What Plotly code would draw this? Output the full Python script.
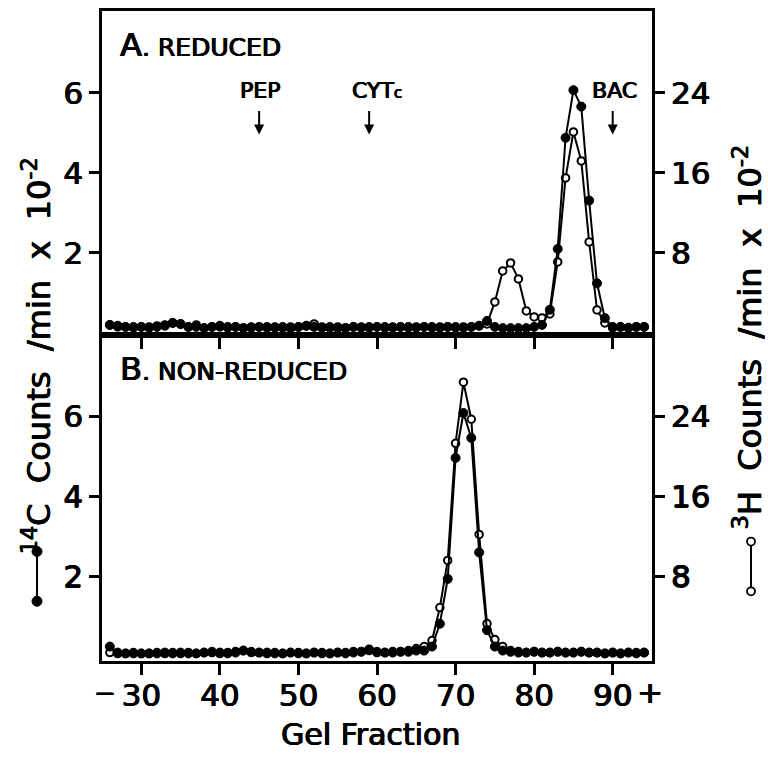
import plotly.graph_objects as go

# ---------------- data ----------------
fractions = list(range(26, 95))

# Panel A (reduced): 14C counts/min x 10^-2 (left axis)
c14_reduced = [
    0.20, 0.18, 0.15, 0.15, 0.15, 0.13, 0.15, 0.18, 0.25, 0.22,   # 26-35
    0.15, 0.15, 0.12, 0.15, 0.18, 0.15, 0.15, 0.12, 0.13, 0.15,   # 36-45
    0.15, 0.13, 0.15, 0.12, 0.15, 0.18, 0.15, 0.13, 0.15, 0.12,   # 46-55
    0.12, 0.15, 0.13, 0.15, 0.15, 0.15, 0.13, 0.15, 0.15, 0.13,   # 56-65
    0.15, 0.15, 0.13, 0.15, 0.15, 0.13, 0.15, 0.18, 0.30, 0.15,   # 66-75
    0.12, 0.12, 0.12, 0.12, 0.15, 0.20, 0.58, 2.10, 4.88, 6.07,   # 76-85
    5.66, 3.31, 1.24, 0.37, 0.15, 0.15, 0.13, 0.15, 0.15,         # 86-94
]
# Panel A (reduced): 3H counts/min x 10^-2 (right axis)
h3_reduced = [
    0.8, 0.6, 0.6, 0.5, 0.6, 0.6, 0.7, 0.8, 1.0, 0.9,   # 26-35
    0.6, 0.8, 0.5, 0.6, 0.6, 0.5, 0.6, 0.5, 0.6, 0.6,   # 36-45
    0.5, 0.6, 0.5, 0.6, 0.6, 0.7, 0.9, 0.6, 0.5, 0.6,   # 46-55
    0.5, 0.6, 0.6, 0.5, 0.6, 0.5, 0.6, 0.6, 0.5, 0.6,   # 56-65
    0.6, 0.5, 0.6, 0.6, 0.5, 0.6, 0.6, 0.7, 0.9, 3.1,   # 66-75
    6.2, 7.0, 5.4, 2.2, 1.6, 1.5, 1.9, 7.1, 15.5, 20.1, # 76-85
    17.2, 9.1, 2.3, 1.0, 0.5, 0.6, 0.5, 0.6, 0.6,       # 86-94
]
# Panel B (non-reduced): 14C (left axis)
c14_nonreduced = [
    0.25, 0.10, 0.08, 0.08, 0.08, 0.08, 0.08, 0.10, 0.08, 0.10,   # 26-35
    0.08, 0.08, 0.10, 0.12, 0.10, 0.08, 0.10, 0.15, 0.12, 0.10,   # 36-45
    0.10, 0.08, 0.08, 0.10, 0.08, 0.08, 0.10, 0.08, 0.08, 0.10,   # 46-55
    0.08, 0.10, 0.12, 0.18, 0.12, 0.10, 0.10, 0.12, 0.12, 0.15,   # 56-65
    0.15, 0.25, 0.82, 1.94, 4.96, 6.08, 5.46, 2.60, 0.66, 0.25,   # 66-75
    0.15, 0.12, 0.10, 0.10, 0.12, 0.10, 0.10, 0.12, 0.10, 0.10,   # 76-85
    0.12, 0.10, 0.10, 0.08, 0.10, 0.08, 0.10, 0.08, 0.10,         # 86-94
]
# Panel B (non-reduced): 3H (right axis)
h3_nonreduced = [
    0.4, 0.3, 0.3, 0.4, 0.3, 0.3, 0.4, 0.3, 0.4, 0.3,   # 26-35
    0.4, 0.3, 0.4, 0.4, 0.3, 0.4, 0.5, 0.6, 0.4, 0.4,   # 36-45
    0.3, 0.4, 0.3, 0.4, 0.4, 0.3, 0.4, 0.4, 0.3, 0.4,   # 46-55
    0.4, 0.5, 0.5, 0.6, 0.4, 0.4, 0.5, 0.5, 0.6, 0.8,   # 56-65
    1.0, 1.6, 4.9, 9.6, 21.3, 27.4, 23.7, 12.2, 3.3, 1.7, # 66-75
    1.0, 0.6, 0.5, 0.4, 0.5, 0.4, 0.4, 0.5, 0.4, 0.4,   # 76-85
    0.5, 0.4, 0.4, 0.3, 0.4, 0.3, 0.4, 0.4, 0.4,        # 86-94
]

x_ticks = [30, 40, 50, 60, 70, 80, 90]
x_ticktext = ["30", "40", "50", "60", "70", "80", "90"]
left_ticks = [2, 4, 6]
right_ticks = [8, 16, 24]

marker_names = ["PEP", "CYT<span style='font-size:15px'>c</span>", "BAC"]
marker_fractions = [45, 59, 90]

# ---------------- figure ----------------
FONT = "DejaVu Sans"
SHADOW = "0.7px 0px 0px black, -0.4px 0px 0px black, 0px 0.3px 0px black"
W, H = 768, 759
ML, MR, MT, MB = 102, 116, 8, 98
PW, PH = W - ML - MR, H - MT - MB
SPLIT = (661 - 333) / PH

TOP_L = [-0.04, 8.05]
TOP_R = [-0.16, 32.2]
BOT_L = [-0.11, 8.04]
BOT_R = [-0.44, 32.16]


def px_x(p):
    return (p - ML) / PW


def px_y(p):
    return (H - MB - p) / PH


fig = go.Figure()

LW = 2
filled = dict(color="black", size=9, line=dict(color="black", width=1))
opened = dict(color="white", size=7.5, line=dict(color="black", width=2))

# 3H on the base (right-side) axes, 14C on the overlaying (left-side) axes -> drawn on top
fig.add_trace(go.Scatter(x=fractions, y=h3_reduced, xaxis="x2", yaxis="y3",
                         mode="lines+markers", line=dict(color="black", width=LW),
                         marker=opened, showlegend=False, cliponaxis=False))
fig.add_trace(go.Scatter(x=fractions, y=c14_reduced, xaxis="x2", yaxis="y4",
                         mode="lines+markers", line=dict(color="black", width=LW),
                         marker=filled, showlegend=False, cliponaxis=False))
fig.add_trace(go.Scatter(x=fractions, y=h3_nonreduced, xaxis="x", yaxis="y",
                         mode="lines+markers", line=dict(color="black", width=LW),
                         marker=opened, showlegend=False, cliponaxis=False))
fig.add_trace(go.Scatter(x=fractions, y=c14_nonreduced, xaxis="x", yaxis="y2",
                         mode="lines+markers", line=dict(color="black", width=LW),
                         marker=filled, showlegend=False, cliponaxis=False))

tickfont = dict(family=FONT, size=31, color="black", shadow=SHADOW)
axis_common = dict(showline=True, linecolor="black", linewidth=2.5, ticks="outside",
                   tickcolor="black", tickwidth=2.5, showgrid=False, zeroline=False,
                   tickfont=tickfont)

fig.update_layout(
    width=W, height=H,
    margin=dict(l=ML, r=MR, t=MT, b=MB, pad=0),
    paper_bgcolor="white", plot_bgcolor="white",
    font=dict(family=FONT, color="black"),
    xaxis=dict(domain=[0, 1], anchor="y", range=[25, 95], tickvals=x_ticks,
               ticktext=x_ticktext, ticklen=11, mirror=True, ticklabelstandoff=-6,
               **axis_common),
    xaxis2=dict(domain=[0, 1], anchor="y3", range=[25, 95], tickvals=x_ticks,
                showticklabels=False, ticklen=12, mirror=True, **axis_common),
    # bottom panel: right axis (3H) is the base, left axis (14C) overlays it
    yaxis=dict(domain=[0, SPLIT], anchor="x", side="right", range=BOT_R,
               tickvals=right_ticks, ticklen=10, mirror=True, **axis_common),
    yaxis2=dict(overlaying="y", side="left", anchor="x", range=BOT_L,
                tickvals=left_ticks, ticklen=10, **axis_common),
    # top panel
    yaxis3=dict(domain=[SPLIT, 1], anchor="x2", side="right", range=TOP_R,
                tickvals=right_ticks, ticklen=10, mirror=True, **axis_common),
    yaxis4=dict(overlaying="y3", side="left", anchor="x2", range=TOP_L,
                tickvals=left_ticks, ticklen=10, **axis_common),
)

TXT = dict(family=FONT, color="black", shadow=SHADOW)
ann = []
# panel labels
ann.append(dict(xref="paper", yref="paper", x=px_x(118), y=px_y(42), xanchor="left",
                yanchor="middle", showarrow=False,
                text="A<span style='font-size:25px'>. REDUCED</span>",
                font=dict(size=32, **TXT)))
ann.append(dict(xref="paper", yref="paper", x=px_x(118), y=px_y(368), xanchor="left",
                yanchor="middle", showarrow=False,
                text="B<span style='font-size:25px'>. NON-REDUCED</span>",
                font=dict(size=32, **TXT)))

# molecular-weight markers with arrows
text_shift = [1, 8, 2]
for name, fr, sh in zip(marker_names, marker_fractions, text_shift):
    ann.append(dict(xref="x2", yref="y4", x=fr, y=6.05, xshift=sh, showarrow=False,
                    text=name, xanchor="center", yanchor="middle",
                    font=dict(size=22, **TXT)))
    ann.append(dict(xref="x2", yref="y4", x=fr, y=4.96, ax=0, ay=-25, text="",
                    showarrow=True, arrowhead=2, arrowsize=1, arrowwidth=2,
                    arrowcolor="black"))

# "-" before 30 and "+" after 90
ann.append(dict(xref="x", yref="paper", x=25.4, y=px_y(693), text="−", showarrow=False,
                xanchor="center", yanchor="middle", font=dict(size=26, **TXT)))
ann.append(dict(xref="x", yref="paper", x=94.7, y=px_y(692), text="+", showarrow=False,
                xanchor="center", yanchor="middle", font=dict(size=31, **TXT)))

# axis titles
ann.append(dict(xref="paper", yref="paper", x=px_x(370), y=px_y(735), text="Gel Fraction",
                showarrow=False, xanchor="center", yanchor="middle",
                font=dict(size=30, **TXT)))
ann.append(dict(xref="paper", yref="paper", x=px_x(37), y=px_y(355), textangle=-90,
                text="<sup>14</sup>C  Counts  /min  x  10<sup>-2</sup>", showarrow=False,
                xanchor="center", yanchor="middle",
                font=dict(size=32, **TXT)))
ann.append(dict(xref="paper", yref="paper", x=px_x(748), y=px_y(336), textangle=-90,
                text="<sup>3</sup>H  Counts  /min  x  10<sup>-2</sup>", showarrow=False,
                xanchor="center", yanchor="middle",
                font=dict(size=32, **TXT)))
fig.update_layout(annotations=ann)

# legend glyphs next to axis titles
shapes = []
rx, ry = 5 / PW, 5 / PH
lx = px_x(37)
shapes.append(dict(type="line", xref="paper", yref="paper", x0=lx, x1=lx,
                   y0=px_y(551), y1=px_y(601), line=dict(color="black", width=2)))
for py in (551, 601):
    shapes.append(dict(type="circle", xref="paper", yref="paper",
                       x0=lx - rx, x1=lx + rx, y0=px_y(py) - ry, y1=px_y(py) + ry,
                       fillcolor="black", line=dict(color="black", width=1)))
rxo, ryo = 4 / PW, 4 / PH
gx = px_x(751)
shapes.append(dict(type="line", xref="paper", yref="paper", x0=gx, x1=gx,
                   y0=px_y(541), y1=px_y(591), line=dict(color="black", width=2)))
for py in (541, 591):
    shapes.append(dict(type="circle", xref="paper", yref="paper",
                       x0=gx - rxo, x1=gx + rxo, y0=px_y(py) - ryo, y1=px_y(py) + ryo,
                       fillcolor="white", line=dict(color="black", width=1.8)))
fig.update_layout(shapes=shapes)

fig.write_html("out.html", post_script="document.body.style.margin='0px';",
               config={"displayModeBar": False})
